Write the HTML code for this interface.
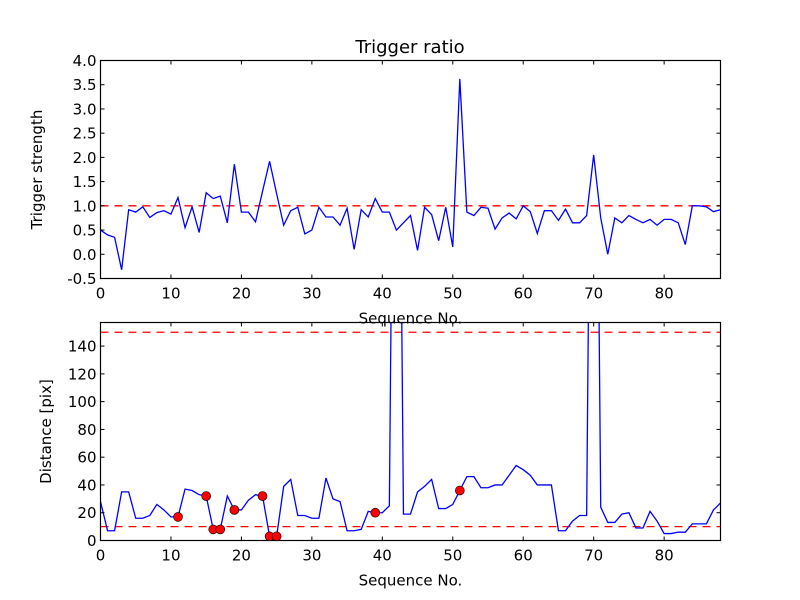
<!DOCTYPE html>
<html><head><meta charset="utf-8"><style>
body{margin:0;background:#fff}
svg{display:block}
text{font-family:"DejaVu Sans","Liberation Sans",sans-serif;fill:#000}
</style></head><body>
<svg id="chart" width="800" height="600" viewBox="0 0 800 600" xmlns="http://www.w3.org/2000/svg">
<rect width="800" height="600" fill="#fff"/>
</svg>
<script>
const topValues=[0.5,0.4,0.35,-0.32,0.92,0.87,0.98,0.76,0.86,0.9,0.83,1.17,0.55,0.98,0.45,1.27,1.15,1.2,0.65,1.86,0.87,0.87,0.67,1.3,1.92,1.25,0.6,0.9,0.97,0.42,0.5,0.97,0.77,0.77,0.6,0.95,0.1,0.92,0.77,1.15,0.87,0.87,0.5,0.65,0.8,0.08,0.97,0.82,0.28,0.97,0.15,3.62,0.87,0.8,0.97,0.95,0.52,0.75,0.85,0.73,1.0,0.88,0.43,0.9,0.9,0.7,0.93,0.65,0.65,0.8,2.05,0.75,0.0,0.75,0.65,0.8,0.72,0.65,0.72,0.6,0.72,0.72,0.65,0.2,1.0,1.0,0.98,0.88,0.92];
const bottomValues=[28,7,7,35,35,16,16,18,26,22,17,17,37,36,33,32,8,8,32,22,22,29,33,32,3,3,39,44,18,18,16,16,45,30,28,7,7,8,21,20,20,25,600,19,19,35,39,44,23,23,26,36,46,46,38,38,40,40,47,54,51,47,40,40,40,7,7,14,18,18,600,24,13,13,19,20,9,9,21,14,5,5,6,6,12,12,12,22,27];
const markerIdx=[11,15,16,17,19,23,24,25,39,51];
const topThreshold=1.0;
const bottomThresholds=[10,150];
const xTicks=[0,10,20,30,40,50,60,70,80];
const topYTicks=[-0.5,0.0,0.5,1.0,1.5,2.0,2.5,3.0,3.5,4.0];
const bottomYTicks=[0,20,40,60,80,100,120,140];

const NS="http://www.w3.org/2000/svg";
const svg=document.getElementById('chart');
function mk(tag,attrs,parent){const e=document.createElementNS(NS,tag);for(const k in attrs)e.setAttribute(k,attrs[k]);(parent||svg).appendChild(e);return e;}
const L=100.5,R=720.5,XMAX=88;
const sx=v=>L+(R-L)*v/XMAX;

function panel(name,top,bot,ymin,ymax,vals,yt,fmt,thr,ylabel){
  const sy=v=>bot-(bot-top)*(v-ymin)/(ymax-ymin);
  const g=mk('g',{});
  
  
  const clipId=name+'-clip';
  const cp=mk('clipPath',{id:clipId},g);mk('rect',{x:L,y:top,width:R-L,height:bot-top},cp);
  const plot=mk('g',{'clip-path':'url(#'+clipId+')'},g);
  thr.forEach(t=>{const l=mk('line',{x1:L,x2:R,y1:sy(t),y2:sy(t),stroke:'#f00','stroke-width':1.3,'stroke-dasharray':'8,6'},plot);
    
    });
  const pts=vals.map((v,i)=>sx(i).toFixed(2)+','+sy(v).toFixed(2)).join(' ');
  const pl=mk('polyline',{points:pts,fill:'none',stroke:'#0000ff','stroke-width':1.3},plot);
  
  
  const fr=mk('rect',{x:L,y:top,width:R-L,height:bot-top,fill:'none',stroke:'#000','stroke-width':1.2},g);
  
  
  xTicks.forEach(t=>{const x=sx(t);
    mk('line',{x1:x,x2:x,y1:bot,y2:bot-4,stroke:'#000'},g);
    mk('line',{x1:x,x2:x,y1:top,y2:top+4,stroke:'#000'},g);
    const tx=mk('text',{x:x,y:bot+20,'text-anchor':'middle','font-size':15},g);tx.textContent=t;
    
    });
  yt.forEach(t=>{const y=sy(t);
    mk('line',{x1:L,x2:L+4,y1:y,y2:y,stroke:'#000'},g);
    mk('line',{x1:R,x2:R-4,y1:y,y2:y,stroke:'#000'},g);
    const tx=mk('text',{x:L-4,y:y+5.5,'text-anchor':'end','font-size':15},g);tx.textContent=fmt(t);
    
    });
  const xl=mk('text',{x:(L+R)/2,y:bot+45,'text-anchor':'middle','font-size':15},g);xl.textContent='Sequence No.';
  
  
  const yl=mk('text',{x:0,y:0,'text-anchor':'middle','font-size':15,transform:'translate('+(name==='top'?42:51)+','+((top+bot)/2)+') rotate(-90)'},g);yl.textContent=ylabel;
  
  
  return {sy,g};
}
panel('top',60.5,278.5,-0.5,4.0,topValues,topYTicks,t=>t.toFixed(1),[topThreshold],'Trigger strength');
const b=panel('bottom',322.5,540.5,0,157,bottomValues,bottomYTicks,t=>String(t),bottomThresholds,'Distance [pix]');
markerIdx.forEach(i=>{const c=mk('circle',{cx:sx(i),cy:b.sy(bottomValues[i]),r:4.5,fill:'#f00',stroke:'#000','stroke-width':0.6},b.g);
  
  });
const title=mk('text',{x:410,y:53,'text-anchor':'middle','font-size':18});title.textContent='Trigger ratio';


</script>
</body></html>
